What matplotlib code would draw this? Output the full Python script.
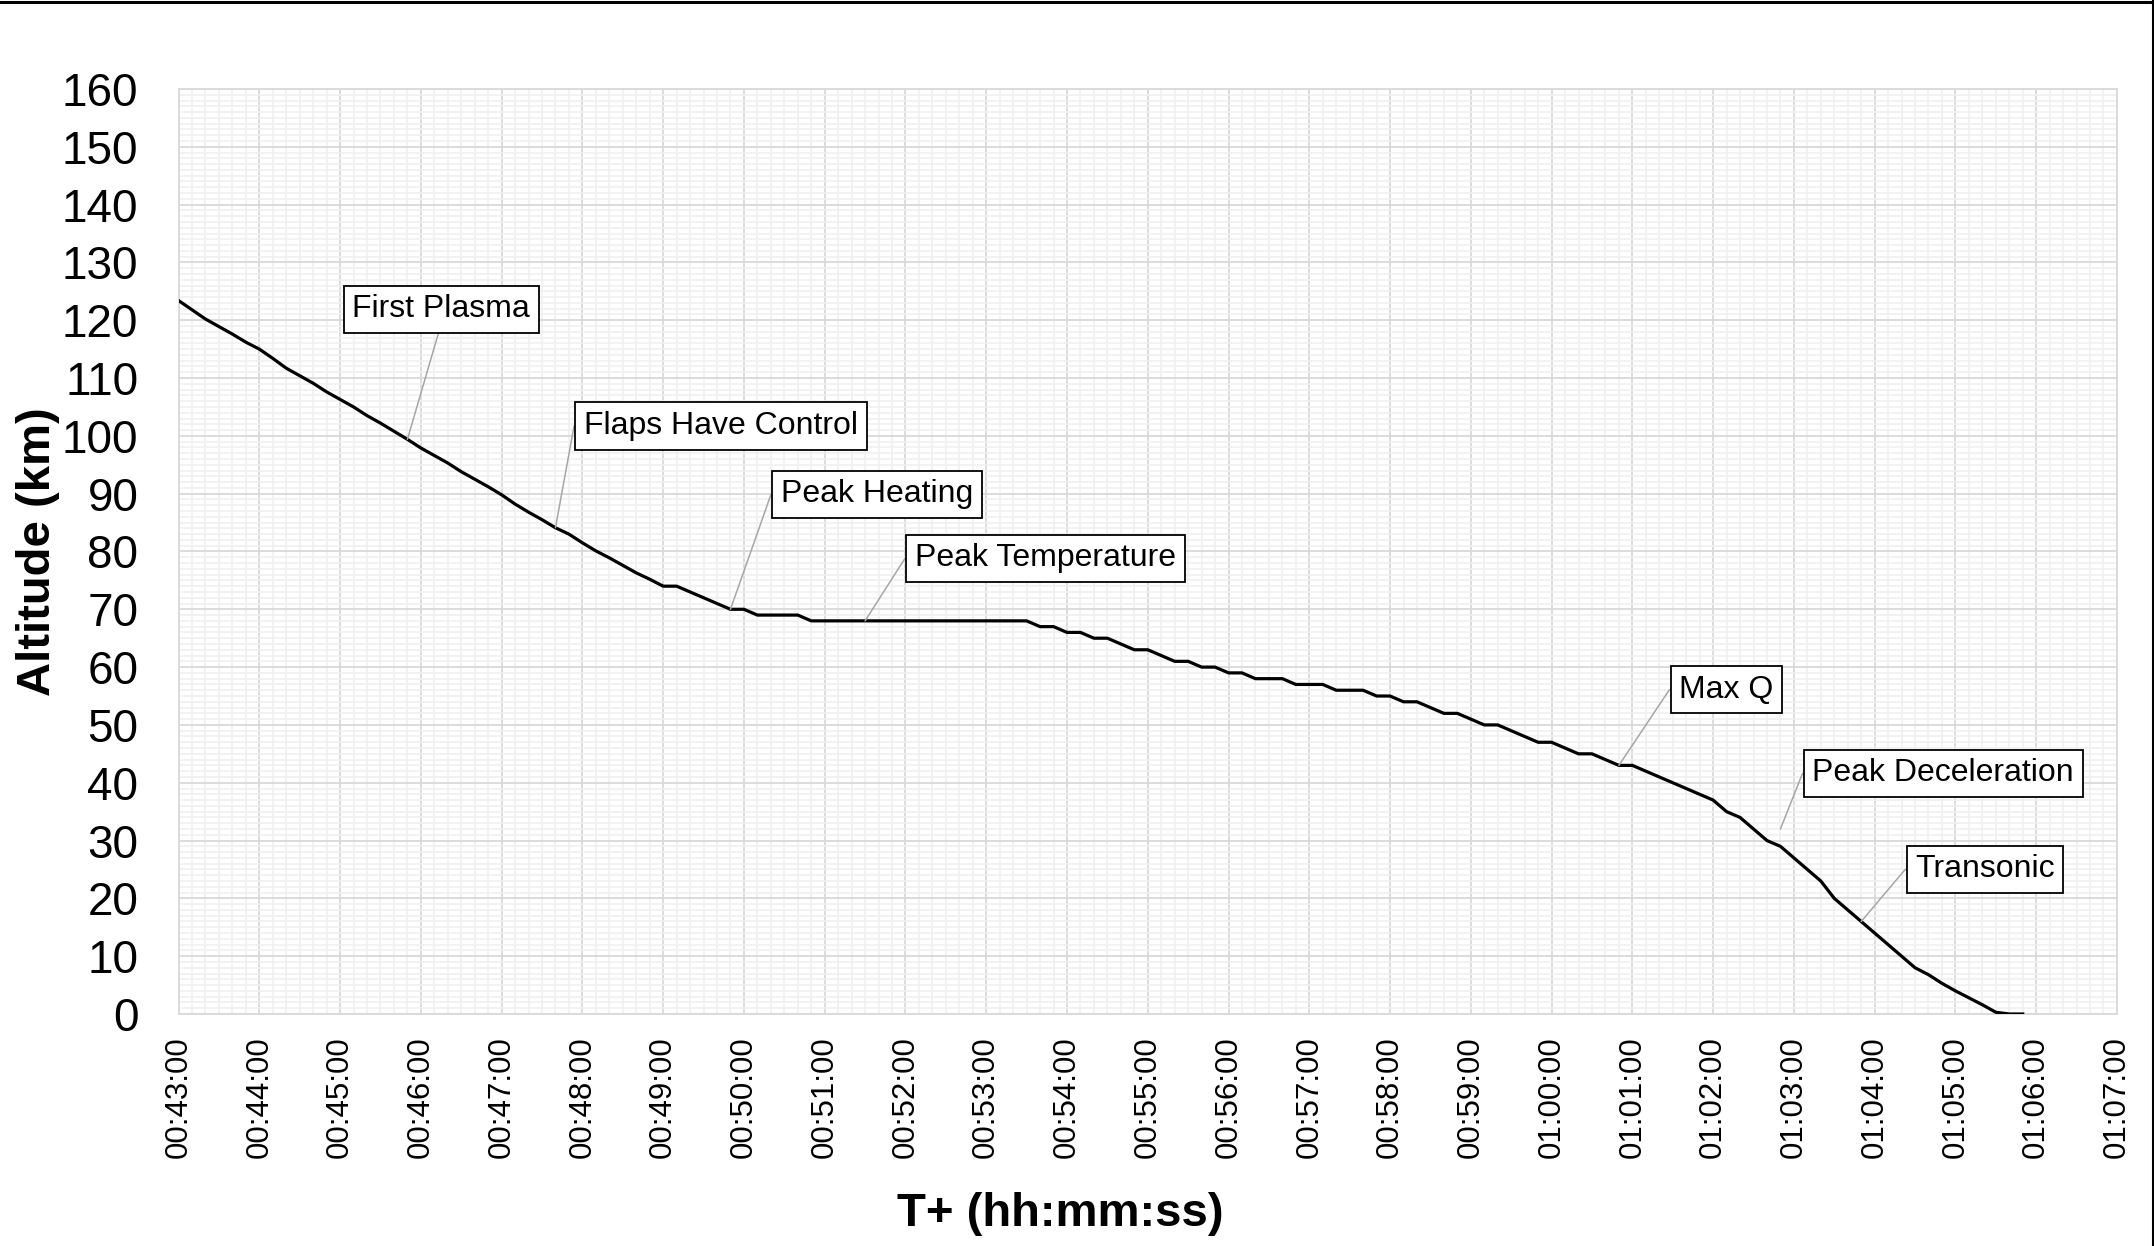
import matplotlib
matplotlib.use("Agg")
import matplotlib.pyplot as plt
from matplotlib.ticker import MultipleLocator, FuncFormatter
from matplotlib.lines import Line2D

plt.rcParams['font.family'] = ['Liberation Sans', 'DejaVu Sans']

# telemetry, one reading every 10 s (T+ hh:mm:ss, altitude km)
times = [
    "00:43:00", "00:43:10", "00:43:20", "00:43:30", "00:43:40", "00:43:50",
    "00:44:00", "00:44:10", "00:44:20", "00:44:30", "00:44:40", "00:44:50",
    "00:45:00", "00:45:10", "00:45:20", "00:45:30", "00:45:40", "00:45:50",
    "00:46:00", "00:46:10", "00:46:20", "00:46:30", "00:46:40", "00:46:50",
    "00:47:00", "00:47:10", "00:47:20", "00:47:30", "00:47:40", "00:47:50",
    "00:48:00", "00:48:10", "00:48:20", "00:48:30", "00:48:40", "00:48:50",
    "00:49:00", "00:49:10", "00:49:20", "00:49:30", "00:49:40", "00:49:50",
    "00:50:00", "00:50:10", "00:50:20", "00:50:30", "00:50:40", "00:50:50",
    "00:51:00", "00:51:10", "00:51:20", "00:51:30", "00:51:40", "00:51:50",
    "00:52:00", "00:52:10", "00:52:20", "00:52:30", "00:52:40", "00:52:50",
    "00:53:00", "00:53:10", "00:53:20", "00:53:30", "00:53:40", "00:53:50",
    "00:54:00", "00:54:10", "00:54:20", "00:54:30", "00:54:40", "00:54:50",
    "00:55:00", "00:55:10", "00:55:20", "00:55:30", "00:55:40", "00:55:50",
    "00:56:00", "00:56:10", "00:56:20", "00:56:30", "00:56:40", "00:56:50",
    "00:57:00", "00:57:10", "00:57:20", "00:57:30", "00:57:40", "00:57:50",
    "00:58:00", "00:58:10", "00:58:20", "00:58:30", "00:58:40", "00:58:50",
    "00:59:00", "00:59:10", "00:59:20", "00:59:30", "00:59:40", "00:59:50",
    "01:00:00", "01:00:10", "01:00:20", "01:00:30", "01:00:40", "01:00:50",
    "01:01:00", "01:01:10", "01:01:20", "01:01:30", "01:01:40", "01:01:50",
    "01:02:00", "01:02:10", "01:02:20", "01:02:30", "01:02:40", "01:02:50",
    "01:03:00", "01:03:10", "01:03:20", "01:03:30", "01:03:40", "01:03:50",
    "01:04:00", "01:04:10", "01:04:20", "01:04:30", "01:04:40", "01:04:50",
    "01:05:00", "01:05:10", "01:05:20", "01:05:30", "01:05:40", "01:05:50",
]
altitude = [
    123.4, 121.8, 120.2, 118.9, 117.6, 116.2,
    115.0, 113.4, 111.7, 110.4, 109.1, 107.6,
    106.3, 105.0, 103.5, 102.2, 100.8, 99.4,
    97.9, 96.6, 95.3, 93.8, 92.5, 91.2,
    89.8, 88.2, 86.8, 85.5, 84.1, 83.0,
    81.5, 80.1, 78.9, 77.6, 76.3, 75.2,
    74, 74, 73, 72, 71, 70,
    70, 69, 69, 69, 69, 68,
    68, 68, 68, 68, 68, 68,
    68, 68, 68, 68, 68, 68,
    68, 68, 68, 68, 67, 67,
    66, 66, 65, 65, 64, 63,
    63, 62, 61, 61, 60, 60,
    59, 59, 58, 58, 58, 57,
    57, 57, 56, 56, 56, 55,
    55, 54, 54, 53, 52, 52,
    51, 50, 50, 49, 48, 47,
    47, 46, 45, 45, 44, 43,
    43, 42, 41, 40, 39, 38,
    37, 35, 34, 32, 30, 29,
    27, 25, 23, 20, 18, 16,
    14, 12, 10, 8, 6.8, 5.3,
    4.0, 2.8, 1.6, 0.3, 0, 0,
]

events = ["First Plasma", "Flaps Have Control", "Peak Heating", "Peak Temperature",
          "Max Q", "Peak Deceleration", "Transonic"]
event_times = ["00:45:50", "00:47:40", "00:49:50", "00:51:30",
               "01:00:50", "01:02:50", "01:03:50"]
event_alt = [99.4, 84.1, 70, 68, 43, 32, 16]


def to_sec(s):
    h, m, sec = s.split(":")
    return int(h) * 3600 + int(m) * 60 + int(sec)


def fmt_time(v, pos=None):
    v = int(round(v))
    return "{:02d}:{:02d}:{:02d}".format(v // 3600, (v % 3600) // 60, v % 60)


t = [to_sec(s) for s in times]
t_ev = [to_sec(s) for s in event_times]

fig = plt.figure(figsize=(21.54, 12.46), dpi=100)
ax = fig.add_axes([0.0829, 0.1862, 0.8999, 0.7424])

ax.plot(t, altitude, color="black", lw=2.3, solid_joinstyle="round", zorder=3)

ax.set_xlim(to_sec("00:43:00"), to_sec("01:07:00"))
ax.set_ylim(0, 160)
ax.xaxis.set_major_locator(MultipleLocator(60))
ax.xaxis.set_minor_locator(MultipleLocator(10))
ax.yaxis.set_major_locator(MultipleLocator(10))
ax.yaxis.set_minor_locator(MultipleLocator(1))
ax.xaxis.set_major_formatter(FuncFormatter(fmt_time))

ax.grid(which="minor", color="#F0F0F0", lw=1.2)
ax.grid(which="major", color="#D9D9D9", lw=1.3)
ax.set_axisbelow(True)
for sp in ax.spines.values():
    sp.set_color("#D9D9D9")
    sp.set_linewidth(1.3)

ax.tick_params(which="both", length=0)
ax.tick_params(axis="y", labelsize=33, pad=29)
ax.tick_params(axis="x", labelsize=22.5, pad=16, labelrotation=90)

ax.set_ylabel("Altitude (km)", fontsize=34, fontweight="bold", va="center")
ax.yaxis.set_label_coords(-0.0725, 0.5)
ax.set_xlabel("T+ (hh:mm:ss)", fontsize=34, fontweight="bold", va="center")
ax.xaxis.set_label_coords(0.455, -0.2162)

# label boxes (centre, in data units) and leader lines
box_x = ["00:46:15", "00:49:43", "00:51:39", "00:53:44", "01:02:10", "01:04:51", "01:05:22"]
box_y = [121.9, 101.7, 89.9, 78.8, 56.1, 41.6, 25.0]

for i, name in enumerate(events):
    if i == 0:
        conn = dict(arrowstyle="-", color="#A6A6A6", lw=1.1, relpos=(0.5, 0),
                    patchA=None, shrinkA=0, shrinkB=0)
    else:
        conn = dict(arrowstyle="-", color="#A6A6A6", lw=1.1, relpos=(0, 0.5),
                    patchA=None, shrinkA=0, shrinkB=0,
                    connectionstyle="arc,angleA=180,armA=10,angleB=0,armB=0,rad=0")
    ax.annotate(name, xy=(t_ev[i], event_alt[i]),
                xytext=(to_sec(box_x[i]), box_y[i]), textcoords="data",
                ha="center", va="center", fontsize=23, zorder=4,
                bbox=dict(boxstyle="square,pad=0.27", fc="white", ec="black", lw=1.3),
                arrowprops=conn)

# chart outline (top and right edges visible)
fig.add_artist(Line2D([0, 1], [1 - 1.5 / 1246] * 2, transform=fig.transFigure,
                      color="black", lw=2.2))
fig.add_artist(Line2D([1 - 1.5 / 2154] * 2, [0, 1], transform=fig.transFigure,
                      color="black", lw=2.2))

fig.savefig("out.png", dpi=100)
